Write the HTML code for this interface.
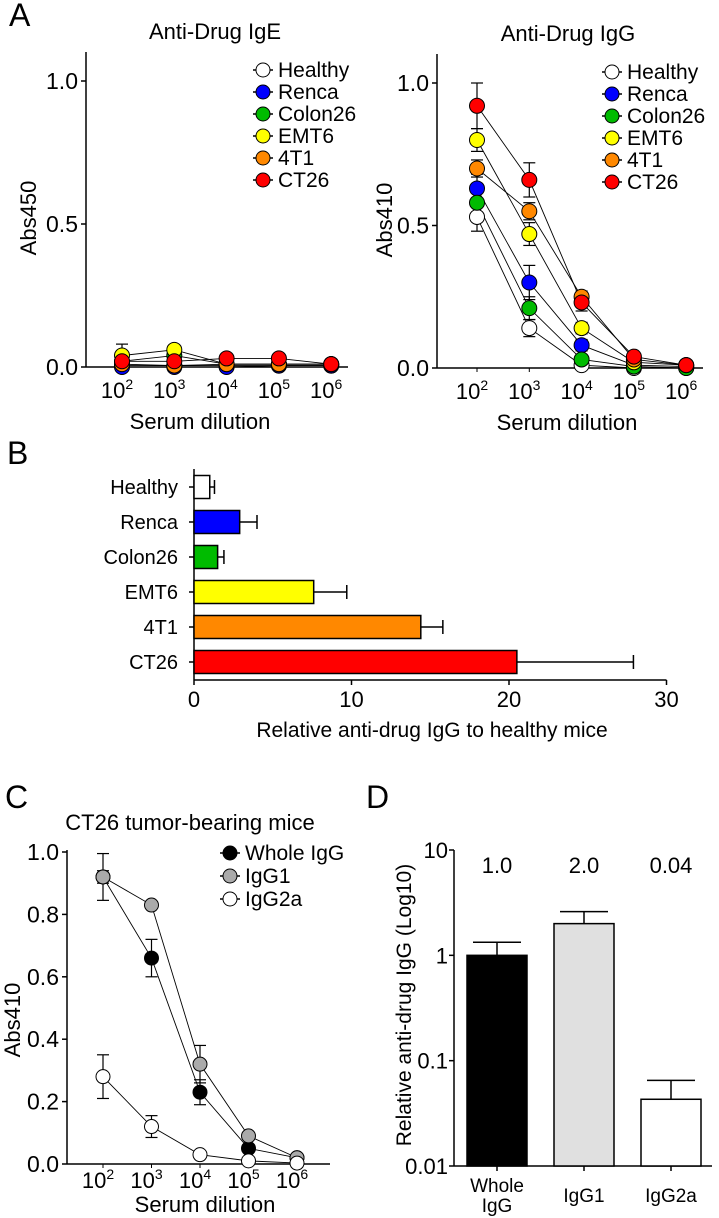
<!DOCTYPE html>
<html><head><meta charset="utf-8"><style>
body{margin:0;background:#fff}
svg{display:block;font-family:"Liberation Sans",Arial,sans-serif}
</style></head><body>
<svg id="fig" width="719" height="1218" viewBox="0 0 719 1218" xmlns="http://www.w3.org/2000/svg"></svg>
<script>
const dilutionLabels = ["2","3","4","5","6"];
const groups = ["Healthy","Renca","Colon26","EMT6","4T1","CT26"];
const groupColors = ["#ffffff","#0000ff","#00bb00","#ffff00","#ff8800","#ff0000"];
const igeHealthy = [0.005,0.005,0.005,0.005,0.005];
const igeRenca = [0.0,0.0,0.0,0.005,0.005];
const igeColon26 = [0.02,0.04,0.01,0.01,0.01];
const igeEMT6 = [0.04,0.06,0.01,0.01,0.01];
const ige4T1 = [0.01,0.005,0.01,0.01,0.01];
const igeCT26 = [0.02,0.02,0.03,0.03,0.01];
const igeErr = [0.04,0.01,0.01,0.01,0.01];
const iggHealthy = [0.53,0.14,0.01,0.0,0.0];
const iggRenca = [0.63,0.30,0.08,0.01,0.005];
const iggColon26 = [0.58,0.21,0.03,0.005,0.0];
const iggEMT6 = [0.80,0.47,0.14,0.02,0.01];
const igg4T1 = [0.70,0.55,0.25,0.03,0.01];
const iggCT26 = [0.92,0.66,0.23,0.04,0.01];
const iggErrHealthy = [0.05,0.03,0.01,0,0];
const iggErrRenca = [0.05,0.06,0.02,0,0];
const iggErrColon26 = [0.04,0.04,0.01,0,0];
const iggErrEMT6 = [0.04,0.04,0.02,0,0];
const iggErr4T1 = [0.03,0.03,0.02,0,0];
const iggErrCT26 = [0.08,0.06,0.03,0,0];
const relValues = [1.0,2.9,1.5,7.6,14.4,20.5];
const relErr = [0.3,1.1,0.4,2.1,1.4,7.4];
const relTicks = [0,10,20,30];
const cSeries = ["Whole IgG","IgG1","IgG2a"];
const cColors = ["#000000","#aaaaaa","#ffffff"];
const cWhole = [0.92,0.66,0.23,0.05,0.02];
const cIgG1 = [0.92,0.83,0.32,0.09,0.02];
const cIgG2a = [0.28,0.12,0.03,0.01,0.003];
const cErrWhole = [0.075,0.06,0.04,0.01,0];
const cErrIgG1 = [0.02,0.0,0.06,0.0,0];
const cErrIgG2a = [0.07,0.035,0.0,0.0,0];
const cTicks = [0,0.2,0.4,0.6,0.8,1.0];
const dCats = [["Whole","IgG"],["IgG1"],["IgG2a"]];
const dValues = [1.0,2.0,0.043];
const dErr = [0.33,0.6,0.022];
const dLabels = ["1.0","2.0","0.04"];
const dColors = ["#000000","#e0e0e0","#ffffff"];
const dTicks = [10,1,0.1,0.01];
const dTickLabels = ["10","1","0.1","0.01"];

const NS="http://www.w3.org/2000/svg", svg=document.getElementById('fig');
function el(t,a,p){const e=document.createElementNS(NS,t);for(const k in a)e.setAttribute(k,a[k]);(p||svg).appendChild(e);return e;}
function tx(x,y,s,a,p){const e=el('text',Object.assign({x:x,y:y,'font-size':17,fill:'#000'},a||{}),p);e.textContent=s;return e;}
function ln(x1,y1,x2,y2,w,p){return el('line',{x1,y1,x2,y2,stroke:'#000','stroke-width':w||1.5},p);}

function panelLetter(s,x,y){const t=tx(x,y,s,{'font-size':32});}
panelLetter('A',9,26);panelLetter('B',7,464);panelLetter('C',5,808);panelLetter('D',366,808);

function linePanel(o){
  const g=el('g',{});
  const ys=v=>o.y0-(v-o.vmin)/(o.vmax-o.vmin)*(o.y0-o.y1);
  const xs=i=>o.xt0+i*o.dx;
  ln(o.ax,o.top,o.ax,o.y0,1.5,g);ln(o.ax,o.y0,o.xend,o.y0,1.5,g);
  o.ticks.forEach((t,i)=>{const y=ys(t);ln(o.ax-5,y,o.ax,y,1.5,g);const l=tx(o.ax-8,y+8,o.tickLabels[i],{'text-anchor':'end','font-size':23},g);});
  dilutionLabels.forEach((d,i)=>{const x=xs(i);ln(x,o.y0,x,o.y0+4,1,g);
    const t=tx(x-5,o.y0+o.tkOff,'10',{'text-anchor':'middle','font-size':22},g);const s=el('tspan',{dy:-9,'font-size':14},t);s.textContent=d;
    });
  const xt=tx(o.xtc,o.y0+o.xtOff,'Serum dilution',{'text-anchor':'middle','font-size':22},g);
  const yt=tx(0,0,o.ytitle,{'text-anchor':'middle','font-size':22,transform:`translate(${o.ytx},${o.yty}) rotate(-90)`},g);
  const tt=tx(o.ttx,o.titleY,o.title,{'text-anchor':'middle','font-size':22},g);
  o.series.forEach((s,k)=>{
    const pts=s.map((v,i)=>xs(i)+','+ys(v)).join(' ');
    const pl=el('polyline',{points:pts,fill:'none',stroke:'#000','stroke-width':0.9},g);
  });
  o.series.forEach((s,k)=>{
    s.forEach((v,i)=>{const x=xs(i),e=o.errs[k][i];
      if(e>0){ln(x,ys(v),x,ys(v+e),1.2,g);ln(x-6,ys(v+e),x+6,ys(v+e),1.2,g);ln(x,ys(v),x,ys(v-e),1.2,g);ln(x-6,ys(v-e),x+6,ys(v-e),1.2,g);}
    });
  });
  o.series.forEach((s,k)=>{
    s.forEach((v,i)=>{const c=el('circle',{cx:xs(i),cy:ys(v),r:o.r,fill:o.colors[k],stroke:'#000','stroke-width':1},g);
      });
  });
  o.labels.forEach((lab,k)=>{const y=o.legY+k*o.legDy;
    const lg=el('g',{},g);
    ln(o.legX-10,y,o.legX+10,y,1.5,lg);el('circle',{cx:o.legX,cy:y,r:7,fill:o.colors[k],stroke:'#000','stroke-width':1},lg);
    tx(o.legX+15,y+7,lab,{'font-size':21},lg);});
}
const aTicks=[0,0.5,1.0], aTickL=["0.0","0.5","1.0"];
linePanel({name:'ige-chart',ax:86,top:52,y0:367,y1:81,vmin:0,vmax:1,xt0:122,dx:52.3,xend:348,ticks:aTicks,tickLabels:aTickL,tkOff:31,xtOff:62,
  ytitle:'Abs450',ytx:36,yty:218,title:'Anti-Drug IgE',ttx:215,titleY:39,xtc:200,series:[igeHealthy,igeRenca,igeColon26,igeEMT6,ige4T1,igeCT26],
  errs:[igeErr.map(()=>0),igeErr.map(()=>0),igeErr.map(()=>0),igeErr,igeErr.map(()=>0),igeErr.map(()=>0)],
  colors:groupColors,labels:groups,r:7.5,legX:263,legY:70,legDy:22});
linePanel({name:'igg-chart',ax:437,top:54,y0:368,y1:83,vmin:0,vmax:1,xt0:477,dx:52.3,xend:703,ticks:aTicks,tickLabels:aTickL,tkOff:31,xtOff:62,
  ytitle:'Abs410',ytx:392,yty:220,title:'Anti-Drug IgG',ttx:568,titleY:41,xtc:567,series:[iggHealthy,iggRenca,iggColon26,iggEMT6,igg4T1,iggCT26],
  errs:[iggErrHealthy,iggErrRenca,iggErrColon26,iggErrEMT6,iggErr4T1,iggErrCT26],
  colors:groupColors,labels:groups,r:7.5,legX:612,legY:72,legDy:22});
linePanel({name:'ct26-subclass-chart',ax:67,top:850,y0:1164,y1:852,vmin:0,vmax:1,xt0:103,dx:48.5,xend:330,ticks:cTicks,tickLabels:cTicks.map(v=>v.toFixed(1)),tkOff:24,xtOff:48,
  ytitle:'Abs410',ytx:20,yty:1020,title:'CT26 tumor-bearing mice',ttx:190,titleY:830,xtc:205,series:[cWhole,cIgG1,cIgG2a],
  errs:[cErrWhole,cErrIgG1,cErrIgG2a],colors:cColors,labels:cSeries,r:7,legX:230,legY:853,legDy:23});

// Panel B
(function(){
  const g=el('g',{});
  const ax=194,y0=680,top=469,xs=v=>ax+v*15.75;
  ln(ax,top,ax,y0,1.5,g);ln(ax,y0,xs(30),y0,1.5,g);
  relTicks.forEach(t=>{ln(xs(t),y0,xs(t),y0+5,1.5,g);const l=tx(xs(t),707,String(t),{'text-anchor':'middle','font-size':22},g);});
  const xt=tx(432,737,'Relative anti-drug IgG to healthy mice',{'text-anchor':'middle','font-size':21},g);
  groups.forEach((n,i)=>{const cy=487+i*35,h=23;
    ln(ax-5,cy,ax,cy,1.5,g);
    const l=tx(ax-16,cy+7,n,{'text-anchor':'end','font-size':20},g);
    const x2=xs(relValues[i]+relErr[i]);ln(xs(relValues[i]),cy,x2,cy,1.5,g);ln(x2,cy-7,x2,cy+7,1.5,g);
    const r=el('rect',{x:ax,y:cy-h/2,width:xs(relValues[i])-ax,height:h,fill:groupColors[i],stroke:'#000','stroke-width':1.5},g);
    
  });
})();

// Panel D
(function(){
  const g=el('g',{});
  const ax=454,y0=1166,yTop=850,xend=712;
  const ys=v=>y0-(Math.log10(v)+2)/3*(y0-yTop);
  ln(ax,yTop,ax,y0,1.5,g);ln(ax,y0,xend,y0,1.5,g);
  dTicks.forEach((t,i)=>{ln(ax-5,ys(t),ax,ys(t),1.5,g);const l=tx(ax-6,ys(t)+8,dTickLabels[i],{'text-anchor':'end','font-size':22},g);});
  const yt=tx(0,0,'Relative anti-drug IgG (Log10)',{'text-anchor':'middle','font-size':21,transform:`translate(${411},${1005}) rotate(-90)`},g);
  dValues.forEach((v,i)=>{const cx=497+i*87,w=60;
    ln(cx,y0,cx,y0+5,1.5,g);
    const top=ys(v),et=ys(v+dErr[i]);ln(cx,top,cx,et,1.5,g);ln(cx-24,et,cx+24,et,1.5,g);
    const r=el('rect',{x:cx-w/2,y:top,width:w,height:y0-top,fill:dColors[i],stroke:'#000','stroke-width':1.5},g);
    
    const vl=tx(cx,873,dLabels[i],{'text-anchor':'middle','font-size':22},g);
    dCats[i].forEach((s,j)=>{const yy=dCats[i].length>1?1192+j*20:1202;const l=tx(cx,yy,s,{'text-anchor':'middle','font-size':19},g);});
  });
})();
</script>
</body></html>
